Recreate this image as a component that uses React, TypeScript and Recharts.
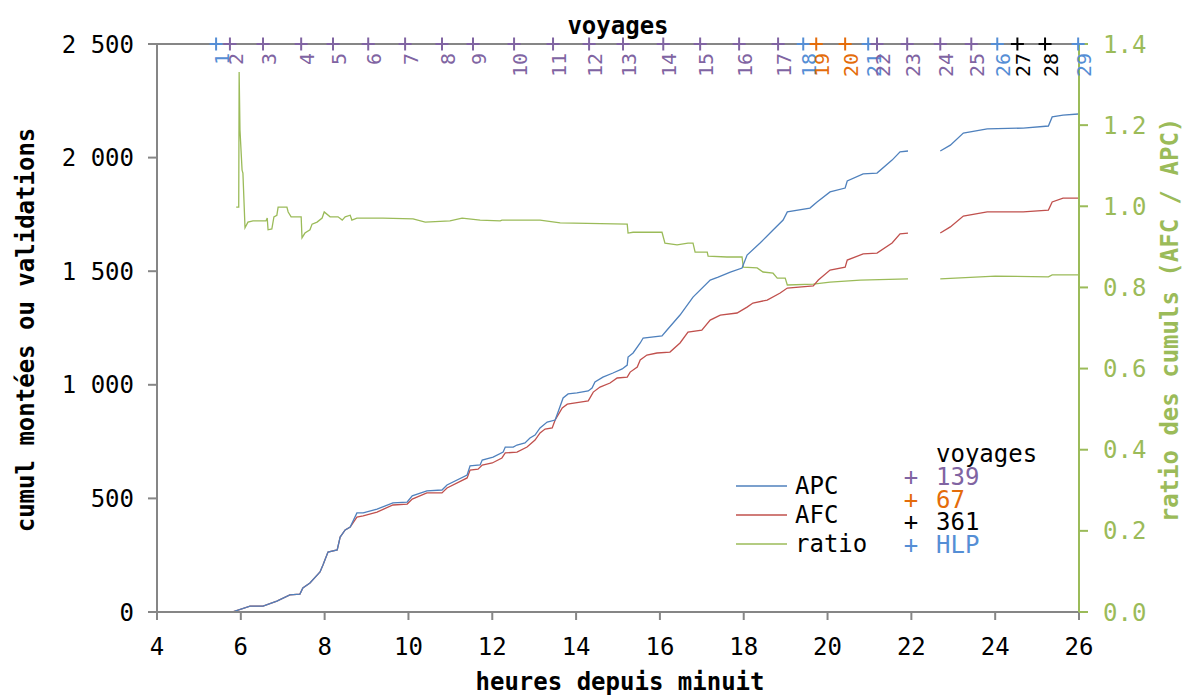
import React from 'react';
import { ComposedChart, Line, Scatter, XAxis, YAxis, ReferenceLine, Customized } from 'recharts';

const FONT = '"DejaVu Sans Mono", "Liberation Mono", monospace';
const GRAY = '#868686';
const BLUE = '#4F81BD';
const RED = '#C0504D';
const GREEN = '#9BBB59';

// hours since midnight -> cumulative count (null = no data)
const APC: [number, number | null][] = [
  [5.74, 0], [5.79, 0], [6.22, 26], [6.53, 26], [6.86, 48], [7.17, 75], [7.41, 79], [7.48, 106],
  [7.65, 128], [7.89, 176], [7.96, 207], [8.08, 264], [8.3, 273], [8.37, 330], [8.49, 361], [8.61, 374],
  [8.77, 436], [8.92, 436], [9.25, 453], [9.63, 480], [9.97, 484], [10.09, 511], [10.44, 533], [10.8, 537],
  [10.92, 559], [11.4, 603], [11.47, 643], [11.71, 647], [11.76, 669], [12.02, 682], [12.26, 704], [12.31, 726],
  [12.5, 726], [12.59, 735], [12.78, 744], [12.9, 766], [13.02, 779], [13.14, 810], [13.31, 836], [13.5, 845],
  [13.57, 880], [13.69, 942], [13.81, 960], [14.02, 964], [14.29, 973], [14.38, 986], [14.45, 1012], [14.64, 1034],
  [14.88, 1052], [15.1, 1070], [15.22, 1087], [15.24, 1122], [15.36, 1140], [15.53, 1184], [15.6, 1206], [16.05, 1215],
  [16.17, 1241], [16.48, 1307], [16.79, 1386], [17.2, 1461], [17.39, 1474], [17.68, 1496], [17.96, 1514], [18.08, 1571],
  [18.39, 1624], [18.7, 1681], [18.94, 1725], [19.04, 1761], [19.58, 1778], [19.75, 1805], [20.06, 1849], [20.42, 1866],
  [20.47, 1897], [20.85, 1928], [21.18, 1932], [21.54, 1989], [21.73, 2025], [21.92, 2029], [22.3, null],
  [22.69, 2029], [22.93, 2055], [23.24, 2108], [23.81, 2126], [24.67, 2130], [25.27, 2139], [25.36, 2179],
  [25.62, 2187], [25.98, 2192],
];

const AFC: [number, number | null][] = [
  [5.74, 0], [5.79, 0], [6.22, 26], [6.53, 26], [6.86, 48], [7.17, 75], [7.41, 79], [7.48, 106],
  [7.65, 128], [7.89, 176], [7.96, 207], [8.08, 264], [8.3, 273], [8.37, 330], [8.49, 361], [8.61, 374],
  [8.77, 418], [8.92, 423], [9.25, 440], [9.63, 471], [9.97, 475], [10.09, 497], [10.44, 524], [10.8, 524],
  [10.92, 546], [11.4, 590], [11.47, 625], [11.66, 629], [11.76, 647], [12.0, 656], [12.23, 678], [12.31, 700],
  [12.59, 704], [12.83, 726], [13.02, 757], [13.14, 788], [13.26, 805], [13.43, 810], [13.5, 845], [13.67, 898],
  [13.79, 915], [14.1, 924], [14.29, 929], [14.41, 968], [14.57, 990], [14.81, 1008], [14.98, 1030], [15.22, 1034],
  [15.29, 1056], [15.46, 1078], [15.53, 1109], [15.69, 1131], [15.93, 1140], [16.24, 1144], [16.48, 1184], [16.67, 1232],
  [17.0, 1241], [17.2, 1285], [17.44, 1307], [17.84, 1316], [18.08, 1342], [18.22, 1360], [18.56, 1373], [18.87, 1404],
  [19.04, 1426], [19.66, 1435], [19.78, 1461], [20.06, 1505], [20.42, 1518], [20.47, 1549], [20.85, 1576], [21.18, 1580],
  [21.54, 1624], [21.73, 1664], [21.92, 1668], [22.3, null],
  [22.69, 1668], [22.93, 1695], [23.24, 1743], [23.81, 1761], [24.67, 1761], [25.27, 1769], [25.36, 1805],
  [25.62, 1822], [25.98, 1822],
];

const RATIO: [number, number | null][] = [
  [5.89, 0.998], [5.95, 0.998], [5.96, 1.331], [5.98, 1.188], [6.03, 1.089], [6.05, 1.082], [6.1, 0.947],
  [6.17, 0.961], [6.29, 0.964], [6.6, 0.964], [6.63, 0.971], [6.65, 0.942], [6.74, 0.944], [6.79, 0.974],
  [6.86, 0.978], [6.89, 0.998], [7.1, 0.998], [7.13, 0.986], [7.2, 0.974], [7.44, 0.974], [7.46, 0.922],
  [7.53, 0.934], [7.65, 0.942], [7.7, 0.956], [7.82, 0.961], [7.94, 0.971], [7.99, 0.986], [8.13, 0.974],
  [8.32, 0.974], [8.42, 0.966], [8.49, 0.974], [8.61, 0.978], [8.65, 0.966], [8.77, 0.971], [9.39, 0.971],
  [10.11, 0.969], [10.4, 0.961], [10.99, 0.964], [11.28, 0.971], [11.71, 0.966], [12.19, 0.964], [12.23, 0.966],
  [13.14, 0.966], [13.62, 0.959], [15.22, 0.956], [15.24, 0.934], [15.36, 0.936], [16.05, 0.936], [16.12, 0.909],
  [16.41, 0.905], [16.67, 0.909], [16.79, 0.909], [16.84, 0.887], [17.13, 0.887], [17.15, 0.877], [17.6, 0.875],
  [17.96, 0.875], [17.99, 0.85], [18.32, 0.848], [18.46, 0.838], [18.7, 0.835], [18.8, 0.823], [18.99, 0.823],
  [19.04, 0.806], [19.66, 0.808], [20.06, 0.813], [20.78, 0.818], [21.92, 0.821], [22.3, null],
  [22.69, 0.821], [24.0, 0.828], [25.27, 0.826], [25.36, 0.831], [25.98, 0.831],
];

// voyages (departure hour, type)
const voyageHours = [
  5.41, 5.74, 6.53, 7.44, 8.2, 9.04, 9.92, 10.8, 11.54, 12.52, 13.45, 14.31, 15.12, 16.08, 16.96,
  17.89, 18.82, 19.42, 19.73, 20.42, 20.97, 21.18, 21.9, 22.69, 23.43, 24.05, 24.53, 25.19, 25.98,
];
const voyageTypes = [
  'HLP', '139', '139', '139', '139', '139', '139', '139', '139', '139', '139', '139', '139', '139', '139',
  '139', '139', 'HLP', '67', '67', 'HLP', '139', '139', '139', '139', 'HLP', '361', '361', 'HLP',
];
const typeNames = ['139', '67', '361', 'HLP'];
const typeColors: Record<string, string> = { '139': '#8064A2', '67': '#E46C0A', '361': '#000000', HLP: '#558ED5' };

const xTicks = [4, 6, 8, 10, 12, 14, 16, 18, 20, 22, 24, 26];
const leftTicks = [0, 500, 1000, 1500, 2000, 2500];
const rightTicks = [0, 0.2, 0.4, 0.6, 0.8, 1.0, 1.2, 1.4];

const toPts = (arr: [number, number | null][]) => arr.map(([h, v]) => ({ h, v }));
const voyages = voyageHours.map((h, i) => ({ h, v: 2500, n: i + 1, type: voyageTypes[i] }));

const fmtCount = (v: number) =>
  v >= 1000 ? `${Math.floor(v / 1000)} ${String(v % 1000).padStart(3, '0')}` : String(v);

// one voyage: a "+" on the top border and its number written upwards below it
const VoyageMark = (props: any) => {
  const cx = Number(props.cx);
  const cy = Number(props.cy);
  const { payload } = props;
  const c = typeColors[payload.type];
  return (
    <g>
      <line x1={cx - 6.5} x2={cx + 6.5} y1={cy} y2={cy} stroke={c} strokeWidth={2} />
      <line x1={cx} x2={cx} y1={cy - 6.5} y2={cy + 6.5} stroke={c} strokeWidth={2} />
      <g transform={`translate(${cx + 6}, ${cy + 9}) rotate(-90)`}>
        <text x={0} y={0} textAnchor="end" dominantBaseline="central" fill={c} fontSize={20} fontFamily={FONT}>
          {payload.n}
        </text>
      </g>
    </g>
  );
};

const Overlay = () => {
  const series = [
    { name: 'APC', color: BLUE },
    { name: 'AFC', color: RED },
    { name: 'ratio', color: GREEN },
  ];
  return (
    <g fontFamily={FONT}>
      <text x={618} y={26} textAnchor="middle" dominantBaseline="central" fontSize={24} fontWeight="bold">voyages</text>
      <text x={620} y={682} textAnchor="middle" dominantBaseline="central" fontSize={24} fontWeight="bold">heures depuis minuit</text>
      <text x={26} y={330} transform="rotate(-90 26 330)" textAnchor="middle" dominantBaseline="central" fontSize={24} fontWeight="bold">
        cumul montées ou validations
      </text>
      <text x={1170} y={320} transform="rotate(-90 1170 320)" textAnchor="middle" dominantBaseline="central" fontSize={24} fontWeight="bold" fill={GREEN}>
        ratio des cumuls (AFC / APC)
      </text>
      {series.map((s, i) => (
        <g key={s.name}>
          <line x1={736} x2={787} y1={486 + i * 29} y2={486 + i * 29} stroke={s.color} strokeWidth={1.3} />
          <text x={795} y={486 + i * 29} dominantBaseline="central" fontSize={24}>{s.name}</text>
        </g>
      ))}
      <text x={936} y={454} dominantBaseline="central" fontSize={24}>voyages</text>
      {typeNames.map((t, i) => (
        <g key={t} fill={typeColors[t]}>
          <text x={911} y={477 + i * 22.7} textAnchor="middle" dominantBaseline="central" fontSize={24}>+</text>
          <text x={936} y={477 + i * 22.7} dominantBaseline="central" fontSize={24}>{t}</text>
        </g>
      ))}
    </g>
  );
};

export default function App() {
  const tickStyle = { fill: '#000', fontSize: 24, fontFamily: FONT };
  return (
    <div style={{ width: 1186, height: 696, background: '#fff' }}>
      <style>{'body{margin:0}'}</style>
      <ComposedChart width={1186} height={696} margin={{ top: 44, right: 0, bottom: 0, left: 0 }}>
        <XAxis
          dataKey="h"
          type="number"
          domain={[4, 26]}
          ticks={xTicks}
          height={84}
          axisLine={{ stroke: GRAY, strokeWidth: 2 }}
          tickLine={{ stroke: GRAY, strokeWidth: 2 }}
          tickSize={8}
          tickMargin={18}
          tick={tickStyle}
        />
        <YAxis
          yAxisId="left"
          type="number"
          domain={[0, 2500]}
          ticks={leftTicks}
          width={157}
          axisLine={{ stroke: GRAY, strokeWidth: 2 }}
          tickLine={{ stroke: GRAY, strokeWidth: 2 }}
          tickSize={9}
          tickMargin={14}
          tick={tickStyle}
          tickFormatter={fmtCount}
        />
        <YAxis
          yAxisId="right"
          orientation="right"
          type="number"
          domain={[0, 1.4]}
          ticks={rightTicks}
          width={107}
          axisLine={{ stroke: GREEN, strokeWidth: 2 }}
          tickLine={{ stroke: GREEN, strokeWidth: 2 }}
          tickSize={9}
          tickMargin={15}
          tick={{ ...tickStyle, fill: GREEN }}
          tickFormatter={(v: number) => v.toFixed(1)}
        />
        <ReferenceLine yAxisId="left" y={2500} stroke={GRAY} strokeWidth={2} />
        <Line yAxisId="right" data={toPts(RATIO)} dataKey="v" stroke={GREEN} strokeWidth={1.3} dot={false} activeDot={false} isAnimationActive={false} />
        <Line yAxisId="left" data={toPts(AFC)} dataKey="v" stroke={RED} strokeWidth={1.3} dot={false} activeDot={false} isAnimationActive={false} />
        <Line yAxisId="left" data={toPts(APC)} dataKey="v" stroke={BLUE} strokeWidth={1.3} dot={false} activeDot={false} isAnimationActive={false} />
        <Scatter yAxisId="left" data={voyages} dataKey="v" shape={VoyageMark} isAnimationActive={false} />
        <Customized component={Overlay} />
      </ComposedChart>
    </div>
  );
}
